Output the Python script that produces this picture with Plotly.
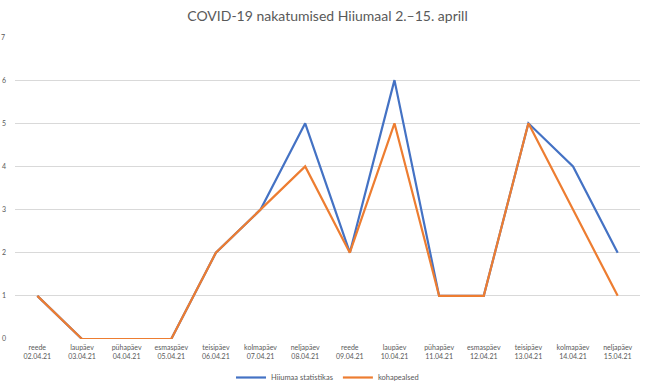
import plotly.graph_objects as go

days = ["reede", "laupäev", "pühapäev", "esmaspäev", "teisipäev", "kolmapäev", "neljapäev",
        "reede", "laupäev", "pühapäev", "esmaspäev", "teisipäev", "kolmapäev", "neljapäev"]
dates = ["02.04.21", "03.04.21", "04.04.21", "05.04.21", "06.04.21", "07.04.21", "08.04.21",
         "09.04.21", "10.04.21", "11.04.21", "12.04.21", "13.04.21", "14.04.21", "15.04.21"]
statistika = [1, 0, 0, 0, 2, 3, 5, 2, 6, 1, 1, 5, 4, 2]
kohapealsed = [1, 0, 0, 0, 2, 3, 4, 2, 5, 1, 1, 5, 3, 1]
y_ticks = [0, 1, 2, 3, 4, 5, 6]

xs = list(range(len(days)))
labels = [f"{d}<br>{t}" for d, t in zip(days, dates)]

fig = go.Figure()
fig.add_trace(go.Scatter(x=xs, y=statistika, mode="lines", name="Hiiumaa statistikas",
                         line=dict(color="#4472C4", width=2.2)))
fig.add_trace(go.Scatter(x=xs, y=kohapealsed, mode="lines", name="kohapealsed",
                         line=dict(color="#ED7D31", width=2.2)))

W, H = 650, 387
fig.update_layout(
    width=W, height=H,
    margin=dict(l=15, r=10, t=37, b=48, autoexpand=False),
    paper_bgcolor="white", plot_bgcolor="white",
    font=dict(family="Lato, Liberation Sans, sans-serif", color="#595959", size=7),
    title=dict(text="COVID-19 nakatumised Hiiumaal 2.\u201315. aprill", x=0.5, xanchor="center",
               xref="paper", y=1 - 16.5 / H, yanchor="middle",
               font=dict(size=14, color="#595959", family="Lato, Liberation Sans, sans-serif")),
    showlegend=True,
    legend=dict(orientation="h", x=0.5, xanchor="center", yref="container", y=9.5 / H,
                yanchor="middle", font=dict(size=7.5, color="#595959"), itemwidth=30,
                tracegroupgap=0),
    xaxis=dict(range=[-0.5, 13.5], tickmode="array", tickvals=xs, ticktext=labels,
               showgrid=False, zeroline=False, showline=False, ticks="", automargin=False,
               tickfont=dict(size=7, color="#595959"), ticklabelstandoff=3, fixedrange=True),
    yaxis=dict(range=[0, 7], tickmode="array", tickvals=y_ticks, ticktext=[str(v) for v in y_ticks],
               showgrid=True, gridcolor="#D9D9D9", gridwidth=1, zeroline=False, showline=False,
               ticks="", automargin=False, tickfont=dict(size=7, color="#595959"),
               ticklabelstandoff=8, fixedrange=True),
)
fig.add_annotation(x=0, xref="paper", xanchor="right", xshift=-8, y=7, yref="y",
                   text="7", showarrow=False, font=dict(size=7, color="#595959"))

fig.write_html("out.html", post_script="document.body.style.margin='0';",
               config={"displayModeBar": False})
